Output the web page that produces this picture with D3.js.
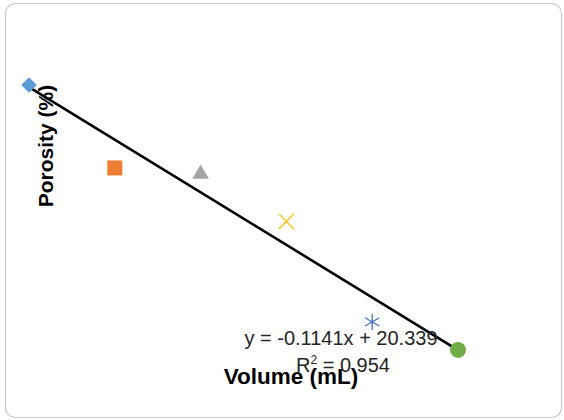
<!DOCTYPE html>
<html>
<head>
<meta charset="utf-8">
<script src="https://cdn.jsdelivr.net/npm/d3@7"></script>
<style>
 body { margin:0; background:#fff; }
 svg { font-family: "Liberation Sans", Arial, sans-serif; }
</style>
</head>
<body>
<div id="chartDiv"></div>
<script>
// Data
var volumes  = [25, 50, 75, 100, 125, 150];			// Volume (mL)
var porosity = [17.60, 13.10, 12.77, 10.20, 4.75, 3.23];	// Porosity (%)
var markerShapes = ["diamond", "square", "triangle", "x", "asterisk", "circle"];
var markerColors = ["#5b9bd5", "#ed7d31", "#a5a5a5", "#ffc000", "#4472c4", "#70ad47"];
var trendSlope = -0.1141;
var trendIntercept = 20.339;
var trendLabel = "y = -0.1141x + 20.339";
var rSquared = "0.954";
var xTitle = "Volume (mL)";
var yTitle = "Porosity (%)";

var width = 564, height = 420;

var svg = d3.select("#chartDiv").append("svg")
 .attr("width", width)
 .attr("height", height);

svg.append("rect")					// chart border
 .attr("x", 5.5).attr("y", 3.5)
 .attr("width", 556).attr("height", 414)
 .attr("rx", 10).attr("ry", 10)
 .attr("fill", "#fff")
 .attr("stroke", "#c8c8c8")
 .attr("stroke-width", 1.2);

var xScale = d3.scaleLinear().domain([25, 150]).range([29, 458]);
var yScale = d3.scaleLinear().domain([0, 20]).range([409.5, 40.7]);

// trendline over the data range
var xExt = d3.extent(volumes);
var trend = xExt.map(function(v){ return [v, trendSlope * v + trendIntercept]; });
svg.append("path")
 .datum(trend)
 .attr("fill", "none")
 .attr("stroke", "#000")
 .attr("stroke-width", 2.6)
 .attr("d", d3.line()
   .x(function(d){ return xScale(d[0]); })
   .y(function(d){ return yScale(d[1]); }));

function markerPath(shape){
 if(shape === "diamond")  return d3.symbol(d3.symbolSquare, 120)();
 if(shape === "square")   return d3.symbol(d3.symbolSquare, 225)();
 if(shape === "triangle") return d3.symbol(d3.symbolTriangle, 120)();
 if(shape === "x")        return d3.symbol(d3.symbolX, 150)();
 if(shape === "asterisk") return d3.symbol(d3.symbolAsterisk, 190)();
 return d3.symbol(d3.symbolCircle, 200)();
}

svg.selectAll(".dot")
 .data(volumes)
 .enter().append("path")
 .attr("class", "dot")
 .attr("d", function(d, i){ return markerPath(markerShapes[i]); })
 .attr("transform", function(d, i){
   var t = "translate(" + xScale(d) + "," + yScale(porosity[i]) + ")";
   if(markerShapes[i] === "diamond") t += " rotate(45)";
   return t;
 })
 .attr("fill", function(d, i){
   var s = markerShapes[i];
   return (s === "x" || s === "asterisk") ? "none" : markerColors[i];
 })
 .attr("stroke", function(d, i){
   var s = markerShapes[i];
   return (s === "x" || s === "asterisk") ? markerColors[i] : "none";
 })
 .attr("stroke-width", 1.3);

// axis titles (no axis lines or ticks in the picture)
svg.append("text")
 .attr("x", 291).attr("y", 384)
 .attr("text-anchor", "middle")
 .style("font-size", "22.5px")
 .style("font-weight", "bold")
 .style("fill", "#000")
 .text(xTitle);

svg.append("text")
 .attr("transform", "translate(53,146) rotate(-90)")
 .attr("text-anchor", "middle")
 .style("font-size", "21px")
 .style("font-weight", "bold")
 .style("fill", "#000")
 .text(yTitle);

// trendline label
svg.append("text")
 .attr("x", 341).attr("y", 345)
 .attr("text-anchor", "middle")
 .style("font-size", "20px")
 .style("fill", "#262626")
 .text(trendLabel);

var r2 = svg.append("text")
 .attr("x", 343).attr("y", 372)
 .attr("text-anchor", "middle")
 .style("font-size", "20px")
 .style("fill", "#262626");
r2.append("tspan").text("R");
r2.append("tspan").attr("dy", -8).style("font-size", "12px").text("2");
r2.append("tspan").attr("dy", 8).text(" = " + rSquared);
</script>
</body>
</html>
